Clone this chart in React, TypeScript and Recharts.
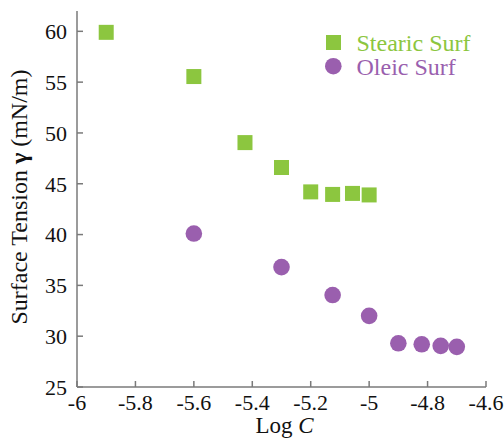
import React from 'react';
import {
  Label,
  Legend,
  Scatter,
  ScatterChart,
  XAxis,
  YAxis,
} from 'recharts';

// values
const stearicLogC = [-5.9, -5.6, -5.425, -5.3, -5.2, -5.125, -5.057, -5.0];
const stearicTension = [59.9, 55.55, 49.05, 46.6, 44.2, 43.95, 44.05, 43.9];
const oleicLogC = [-5.6, -5.3, -5.125, -5.0, -4.9, -4.82, -4.755, -4.7];
const oleicTension = [40.1, 36.8, 34.05, 32.0, 29.3, 29.2, 29.05, 28.95];
const xTicks = [-6, -5.8, -5.6, -5.4, -5.2, -5, -4.8, -4.6];
const yTicks = [25, 30, 35, 40, 45, 50, 55, 60];

const GREEN = '#8cc63f';
const PURPLE = '#9a5fae';
const AXIS = '#7a7a7a';
const FONT = '"Liberation Serif", "DejaVu Serif", serif';

const stearicData = stearicLogC.map((x, i) => ({ x, y: stearicTension[i] }));
const oleicData = oleicLogC.map((x, i) => ({ x, y: oleicTension[i] }));

const tickStyle = { fill: '#111', fontSize: 22, fontFamily: FONT };

function SquareDot(props: any) {
  const { cx, cy } = props;
  return <rect x={cx - 7.5} y={cy - 7.5} width={15} height={15} fill={GREEN} />;
}

function CircleDot(props: any) {
  const { cx, cy } = props;
  return <circle cx={cx} cy={cy} r={8.3} fill={PURPLE} />;
}

function YTitle(props: any) {
  const { viewBox } = props;
  const cx = viewBox.x + 19;
  const cy = viewBox.y + viewBox.height / 2 - 2;
  return (
    <text
      x={cx}
      y={cy}
      transform={`rotate(-90 ${cx} ${cy})`}
      textAnchor='middle'
      dominantBaseline='central'
      fontSize={24}
      fontFamily={FONT}
      fill='#111'
    >
      Surface Tension <tspan fontWeight='bold'>γ</tspan> (mN/m)
    </text>
  );
}

function XTitle(props: any) {
  const { viewBox } = props;
  return (
    <text
      x={viewBox.x + viewBox.width / 2 + 3}
      y={viewBox.y + 46}
      textAnchor='middle'
      fontSize={23}
      fontFamily={FONT}
      fill='#111'
    >
      Log <tspan fontStyle='italic'>C</tspan>
    </text>
  );
}

function LegendBox() {
  return (
    <svg width={170} height={60} style={{ display: 'block' }}>
      <rect x={4} y={5} width={15} height={15} fill={GREEN} />
      <text x={34.5} y={21} fontSize={24} fontFamily={FONT} fill={GREEN}>
        Stearic Surf
      </text>
      <circle cx={11.3} cy={36.2} r={8.3} fill={PURPLE} />
      <text x={34.5} y={45} fontSize={24} fontFamily={FONT} fill={PURPLE}>
        Oleic Surf
      </text>
    </svg>
  );
}

export default function App() {
  return (
    <div style={{ position: 'absolute', left: 0, top: 0, background: '#fff' }}>
      <ScatterChart
        width={504}
        height={438}
        margin={{ top: 11, right: 18, bottom: 0, left: 0 }}
      >
        <XAxis
          type='number'
          dataKey='x'
          domain={[-6, -4.6]}
          ticks={xTicks}
          tickFormatter={(v) => `${v}`}
          height={51}
          stroke={AXIS}
          strokeWidth={1.5}
          tickSize={-6}
          tickMargin={13}
          tick={tickStyle}
          allowDataOverflow
        >
          <Label content={<XTitle />} />
        </XAxis>
        <XAxis
          xAxisId='top'
          orientation='top'
          type='number'
          dataKey='x'
          domain={[-6, -4.6]}
          ticks={xTicks}
          height={0}
          stroke={AXIS}
          strokeWidth={1.5}
          tickSize={-6}
          tick={false}
          allowDataOverflow
        />
        <YAxis
          type='number'
          dataKey='y'
          domain={[25, 62]}
          ticks={yTicks}
          width={77}
          stroke={AXIS}
          strokeWidth={1.5}
          tickSize={-6}
          tickMargin={16}
          tick={tickStyle}
          allowDataOverflow
        >
          <Label content={<YTitle />} />
        </YAxis>
        <YAxis
          yAxisId='right'
          orientation='right'
          type='number'
          dataKey='y'
          domain={[25, 62]}
          ticks={yTicks}
          width={0}
          stroke={AXIS}
          strokeWidth={1.5}
          tickSize={-6}
          tick={false}
          allowDataOverflow
        />
        <Legend
          layout='vertical'
          align='center'
          verticalAlign='middle'
          content={<LegendBox />}
          wrapperStyle={{ position: 'absolute', left: 322, top: 30, width: 170 }}
        />
        <Scatter
          name='Stearic Surf'
          data={stearicData}
          shape={<SquareDot />}
          isAnimationActive={false}
        />
        <Scatter
          name='Oleic Surf'
          data={oleicData}
          shape={<CircleDot />}
          isAnimationActive={false}
        />
        <Scatter
          data={stearicData}
          xAxisId='top'
          yAxisId='right'
          shape={() => null}
          legendType='none'
          isAnimationActive={false}
        />
      </ScatterChart>
    </div>
  );
}
